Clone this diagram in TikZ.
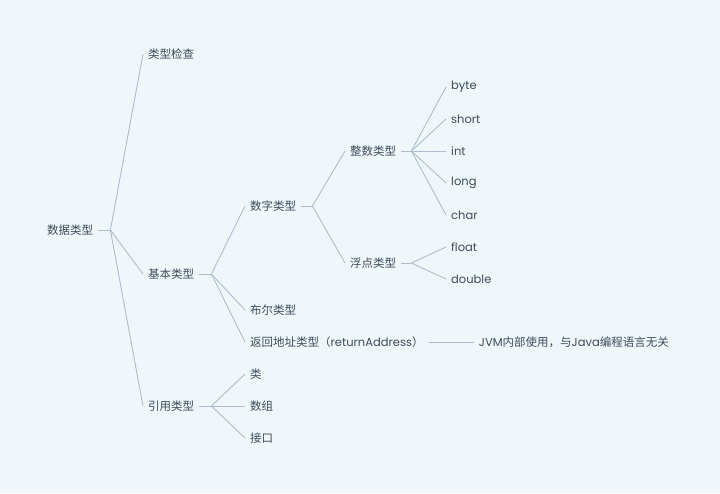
\documentclass[tikz,border=0pt]{standalone}
\usepackage{fontspec}
\setmainfont{Poppins}
\newfontfamily\cjk{Noto Sans CJK SC}
\usepackage{xcolor}
\usetikzlibrary{positioning}
\definecolor{bgcol}{HTML}{F0F7FA}
\definecolor{txtcol}{HTML}{3E4A5C}
\definecolor{linecol}{HTML}{AFBCCE}
\tikzset{
  topic/.style={anchor=west, inner xsep=5pt, inner ysep=2pt, text=txtcol,
                font=\fontsize{11.5}{14}\selectfont\cjk},
  leaf/.style={anchor=west, inner xsep=5pt, inner ysep=2pt, text=txtcol,
               font=\fontsize{11.5}{14}\selectfont},
  branch/.style={draw=linecol, line width=0.9pt},
}

\begin{document}
\begin{tikzpicture}[x=1pt, y=-1pt]
  \fill[bgcol] (0,0) rectangle (720,493);
  \useasboundingbox (0,0) rectangle (720,493);

  \node[topic] (root) at (42,230) {数据类型};
  \node[topic] (check) at (143,54) {类型检查};
  \node[topic] (basic) at (143,274) {基本类型};
  \node[topic] (ref) at (143,406) {引用类型};

  \node[topic] (num) at (245,206) {数字类型};
  \node[topic] (bool) at (245,310) {布尔类型};
  \node[leaf] (ret) at (245,342) {{\cjk 返回地址类型（}returnAddress{\cjk ）}};
  \node[leaf, right=45pt of ret] (jvm) {JVM{\cjk 内部使用，与}Java{\cjk 编程语言无关}};

  \node[topic] (int) at (345,151) {整数类型};
  \node[topic] (flt) at (345,263) {浮点类型};

  \node[leaf] (byte) at (446,87) {byte};
  \node[leaf] (short) at (446,119) {short};
  \node[leaf] (intt) at (446,151) {int};
  \node[leaf] (long) at (446,183) {long};
  \node[leaf] (char) at (446,215) {char};
  \node[leaf] (float) at (446,247) {float};
  \node[leaf] (double) at (446,279) {double};

  \node[topic] (cls) at (245,374) {类};
  \node[topic] (arr) at (245,406) {数组};
  \node[topic] (ifc) at (245,438) {接口};

  \coordinate (jroot) at ([xshift=12pt]root.east);
  \coordinate (jbasic) at ([xshift=12pt]basic.east);
  \coordinate (jref) at ([xshift=12pt]ref.east);
  \coordinate (jnum) at ([xshift=11pt]num.east);
  \coordinate (jint) at ([xshift=10pt]int.east);
  \coordinate (jflt) at ([xshift=10pt]flt.east);

  \draw[branch] (root.east) -- (jroot);
  \draw[branch] (jroot) -- (check.west);
  \draw[branch] (jroot) -- (basic.west);
  \draw[branch] (jroot) -- (ref.west);

  \draw[branch] (basic.east) -- (jbasic);
  \draw[branch] (jbasic) -- (num.west);
  \draw[branch] (jbasic) -- (bool.west);
  \draw[branch] (jbasic) -- (ret.west);
  \draw[branch] (ret.east) -- (jvm.west);

  \draw[branch] (num.east) -- (jnum);
  \draw[branch] (jnum) -- (int.west);
  \draw[branch] (jnum) -- (flt.west);

  \draw[branch] (int.east) -- (jint);
  \foreach \k in {byte,short,intt,long,char}
    \draw[branch] (jint) -- (\k.west);

  \draw[branch] (flt.east) -- (jflt);
  \draw[branch] (jflt) -- (float.west);
  \draw[branch] (jflt) -- (double.west);

  \draw[branch] (ref.east) -- (jref);
  \draw[branch] (jref) -- (cls.west);
  \draw[branch] (jref) -- (arr.west);
  \draw[branch] (jref) -- (ifc.west);
\end{tikzpicture}
\end{document}
